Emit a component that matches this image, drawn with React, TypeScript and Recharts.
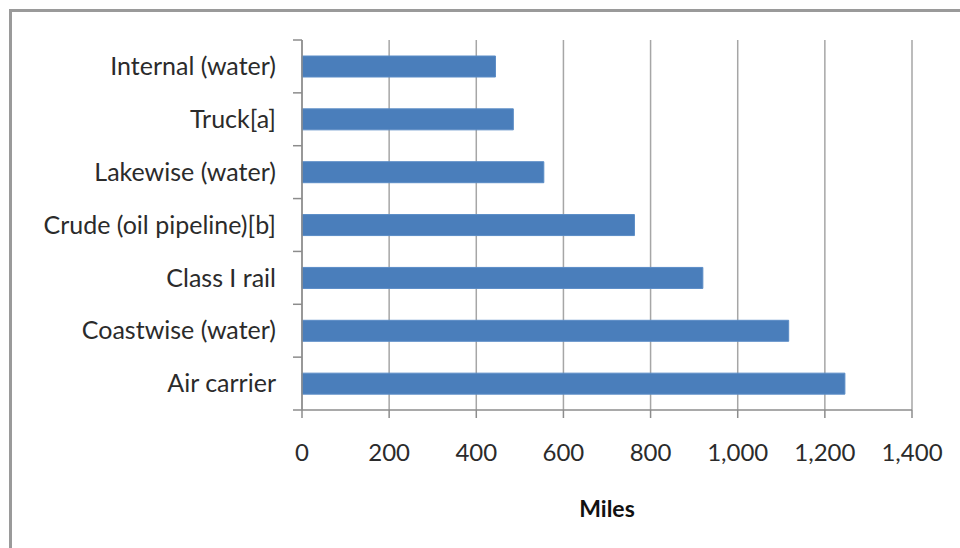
import React from 'react';
import { BarChart, Bar, XAxis, YAxis, CartesianGrid, Label } from 'recharts';

const modes = [
  'Internal (water)',
  'Truck[a]',
  'Lakewise (water)',
  'Crude (oil pipeline)[b]',
  'Class I rail',
  'Coastwise (water)',
  'Air carrier',
];
const miles = [444, 485, 555, 763, 920, 1117, 1246];
const mileTicks = [0, 200, 400, 600, 800, 1000, 1200, 1400];

const data = modes.map((name, i) => ({ name, miles: miles[i] }));

const FONT = 'Lato, "Open Sans", sans-serif';
const TOP = 40;
const BOTTOM = 138;
const HEIGHT = 548;
const bandHalf = (HEIGHT - TOP - BOTTOM) / modes.length / 2;

// Excel puts the category ticks between the bars, not on them
const CategoryTick = (props: any) => {
  const { x, y, payload, index } = props;
  const axisX = x + 26;
  return (
    <g>
      <line x1={axisX - 9} x2={axisX} y1={y - bandHalf} y2={y - bandHalf} stroke="#8c8c8c" strokeWidth={1.5} />
      {index === modes.length - 1 && (
        <line x1={axisX - 9} x2={axisX} y1={y + bandHalf} y2={y + bandHalf} stroke="#8c8c8c" strokeWidth={1.5} />
      )}
      <text x={x} y={y} dy="0.35em" textAnchor="end" fill="#2b2b2b" fontSize={25} fontFamily={FONT}>
        {payload.value}
      </text>
    </g>
  );
};

export default function App() {
  return (
    <div style={{ position: 'absolute', left: 0, top: 0, width: 960, height: 548, overflow: 'hidden', background: '#fff' }}>
      <div
        style={{
          position: 'absolute',
          left: 9,
          top: 9,
          width: 1000,
          height: 600,
          border: '3px solid #9a9a9a',
        }}
      />
      <div style={{ position: 'absolute', left: 0, top: 0 }}>
        <BarChart
          width={960}
          height={548}
          data={data}
          layout="vertical"
          margin={{ top: TOP, right: 48, bottom: 0, left: 0 }}
          barSize={21}
        >
          <CartesianGrid horizontal={false} stroke="#a6a6a6" strokeWidth={1.5} />
          <XAxis
            type="number"
            domain={[0, 1400]}
            ticks={mileTicks}
            interval={0}
            height={BOTTOM}
            stroke="#8c8c8c"
            strokeWidth={1.5}
            tickSize={8}
            tickMargin={26}
            tick={{ fill: '#2b2b2b', fontSize: 24, fontFamily: FONT }}
            tickFormatter={(v: number) => v.toLocaleString('en-US')}
          >
            <Label
              value="Miles"
              position="insideBottom"
              offset={31}
              style={{ fill: '#111', fontSize: 23, fontWeight: 700, fontFamily: FONT }}
            />
          </XAxis>
          <YAxis
            type="category"
            dataKey="name"
            width={302}
            stroke="#8c8c8c"
            strokeWidth={1.5}
            tickLine={false}
            tickSize={0}
            tickMargin={26}
            interval={0}
            tick={<CategoryTick />}
          />
          <Bar dataKey="miles" fill="#4a7ebb" stroke="#5a8cc6" strokeWidth={1} isAnimationActive={false} />
        </BarChart>
      </div>
    </div>
  );
}
